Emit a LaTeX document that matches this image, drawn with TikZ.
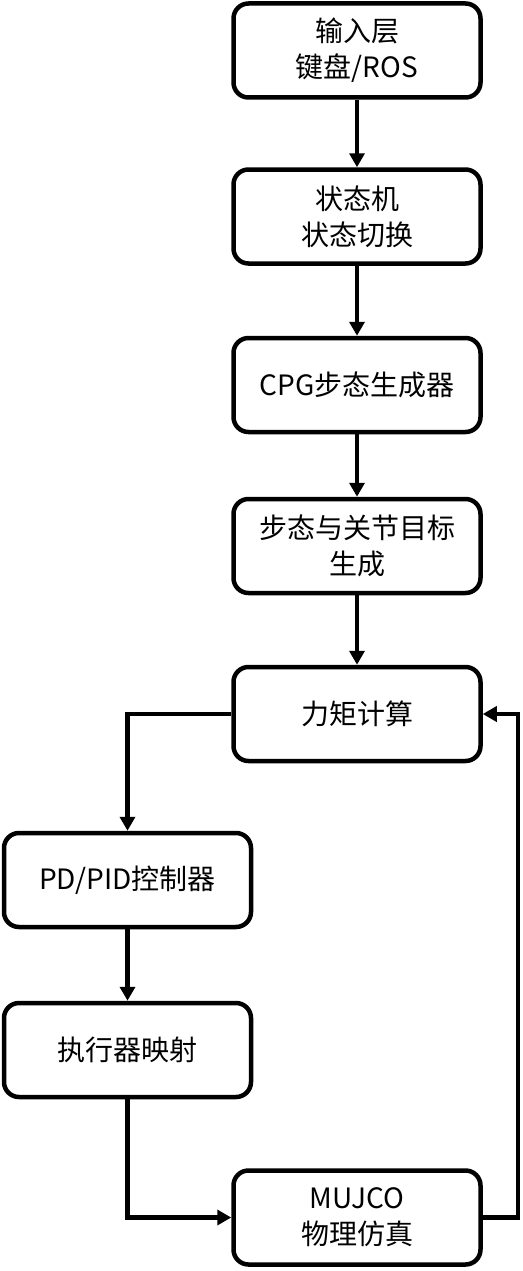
\documentclass[tikz,border=0pt]{standalone}
\usepackage{fontspec}
\setmainfont{Noto Sans CJK SC}
\usetikzlibrary{arrows.meta, positioning}

\begin{document}
\begin{tikzpicture}[x=1pt, y=-1pt,
  stagebox/.style={draw, line width=4.5pt, rounded corners=15pt, minimum width=247pt, minimum height=94pt, align=center, inner sep=0pt, font=\fontsize{28}{36}\selectfont},
  flow/.style={-{Triangle[length=14pt, width=15pt]}, line width=4.5pt}]
  \useasboundingbox (0,0) rectangle (522,1271);

  % main column
  \node[stagebox] (input) at (357, 50.5) {输入层\\键盘/ROS};
  \node[stagebox] (fsm) at (357, 216.5) {状态机\\状态切换};
  \node[stagebox] (cpg) at (357, 385) {CPG步态生成器};
  \node[stagebox] (target) at (357, 546) {步态与关节目标\\生成};
  \node[stagebox] (torque) at (357, 714) {力矩计算};

  % left column
  \node[stagebox] (pid) at (127.5, 880) {PD/PID控制器};
  \node[stagebox] (actuator) at (127.5, 1050) {执行器映射};

  % simulation
  \node[stagebox] (mujoco) at (357, 1217.5) {MUJCO\\物理仿真};

  % connectors
  \draw[flow] (input) -- (fsm);
  \draw[flow] (fsm) -- (cpg);
  \draw[flow] (cpg) -- (target);
  \draw[flow] (target) -- (torque);
  \draw[flow] (torque.west) -| (pid.north);
  \draw[flow] (pid) -- (actuator);
  \draw[flow] (actuator.south) |- (mujoco.west);

  % feedback loop
  \coordinate (loop) at (518, 1217.5);
  \draw[flow] (mujoco.east) -- (loop) |- (torque.east);
\end{tikzpicture}
\end{document}
